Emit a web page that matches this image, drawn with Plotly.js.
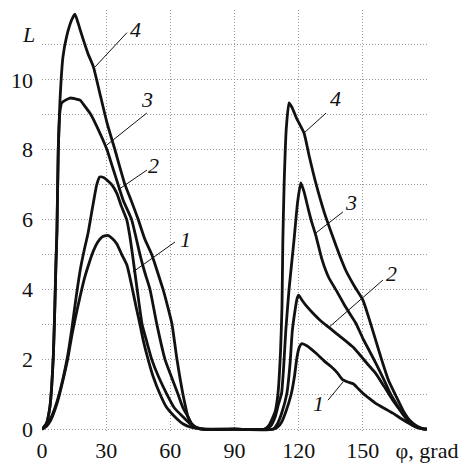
<!DOCTYPE html>
<html>
<head>
<meta charset="utf-8">
<script src="https://cdn.plot.ly/plotly-3.0.1.min.js"></script>
<style>
  html, body { margin: 0; padding: 0; background: #fff; }
  #chart { width: 476px; height: 464px; }
  #chart svg text { font-family: "Liberation Serif", "DejaVu Serif", serif !important; }
</style>
</head>
<body>
<div id="chart"></div>
<script>
// ---- Data (phi in degrees, L values) ----
const phi1 = [0, 2, 4, 6, 8, 10, 12, 14, 16, 18, 20, 22, 24, 26, 28, 30.6, 33, 35, 37.3, 39.7, 42.3, 44, 45.8, 47.5, 49.6, 52, 55.2, 58, 62.2, 66, 70, 75, 90, 108,
              110, 112, 114, 116.5, 118, 119.2, 120.3, 121.5, 124, 128, 132, 135, 138, 140.5, 143, 145.5, 148, 150, 153, 156, 160, 164, 168, 171.5, 175, 178, 180];
const L1   = [0, 0.08, 0.25, 0.55, 0.95, 1.45, 2.0, 2.7, 3.3, 3.85, 4.35, 4.75, 5.1, 5.35, 5.5, 5.55, 5.45, 5.3, 5.0, 4.7, 4.0, 3.5, 3.0, 2.5, 2.0, 1.5, 1.0, 0.65, 0.35, 0.15, 0.05, 0, 0, 0,
              0.05, 0.2, 0.5, 1.0, 1.5, 2.06, 2.35, 2.45, 2.38, 2.18, 1.95, 1.8, 1.62, 1.42, 1.35, 1.3, 1.15, 1.03, 0.88, 0.74, 0.6, 0.46, 0.3, 0.17, 0.06, 0.01, 0];

const phi2 = [0, 2, 4, 6, 8, 10, 12, 14, 16, 18, 20, 21.5, 23.5, 25.6, 27, 29, 31, 32.6, 35, 37, 39.6, 41, 42.3, 44.5, 46.8, 49, 51.3, 54.5, 58.4, 62, 66, 70, 74, 78, 90, 108,
              110, 112, 114.5, 116, 117, 118.3, 119.3, 120, 121.5, 124, 126.7, 130, 134, 138, 141.5, 145.4, 149, 152, 156, 160, 164, 168, 171.6, 175, 178, 180];
const L2   = [0, 0.1, 0.3, 0.6, 1.0, 1.5, 2.1, 2.9, 3.8, 4.6, 5.2, 5.6, 6.3, 7.0, 7.22, 7.2, 7.1, 7.0, 6.75, 6.4, 6.0, 5.55, 5.0, 4.0, 3.0, 2.5, 2.0, 1.5, 1.0, 0.6, 0.35, 0.12, 0.02, 0, 0, 0,
              0.15, 0.45, 1.03, 1.9, 2.8, 3.4, 3.75, 3.84, 3.7, 3.5, 3.32, 3.12, 2.92, 2.72, 2.55, 2.35, 2.1, 1.88, 1.6, 1.22, 0.83, 0.5, 0.25, 0.08, 0.01, 0];

const phi3 = [0, 2, 3.7, 4.5, 5.3, 6, 6.5, 7, 7.6, 8.4, 9.2, 11, 13.1, 15.4, 17.8, 20, 22.4, 25, 28, 30.4, 33, 35.6, 38, 41.9, 45.8, 48, 50.5, 53.7, 57.5, 60.5, 63.6, 66, 68.3, 70, 72, 75, 90, 104,
              107, 109, 110.5, 112, 113, 114, 115.5, 117.8, 119.5, 121, 122.5, 124.5, 126, 128, 131, 134, 137.5, 141, 144, 146.7, 150, 153, 156, 160, 163, 165.5, 169, 173.5, 177, 180];
const L3   = [0, 0.15, 0.64, 1.2, 2.1, 3.5, 4.7, 5.7, 8.0, 9.1, 9.34, 9.42, 9.48, 9.46, 9.42, 9.25, 9.05, 8.75, 8.35, 8.0, 7.5, 7.0, 6.55, 6.0, 5.0, 4.5, 4.0, 3.0, 2.0, 1.5, 1.0, 0.6, 0.35, 0.15, 0.05, 0, 0, 0,
              0.1, 0.35, 0.7, 1.03, 1.8, 2.84, 4.0, 5.4, 6.5, 7.05, 6.8, 6.3, 5.95, 5.55, 4.84, 4.35, 3.98, 3.6, 3.3, 3.04, 2.6, 2.25, 1.9, 1.4, 1.0, 0.74, 0.4, 0.1, 0.02, 0];

const phi4 = [0, 2, 3.7, 4.5, 5.3, 6, 6.5, 7, 7.6, 8.4, 9.8, 11.5, 13.9, 15.4, 17.5, 19.3, 21.5, 24, 27.1, 30.4, 34.1, 38.8, 42, 45, 48, 51.3, 54, 56.6, 58.8, 60.8, 63.1, 65.9, 68.3, 70, 72, 75, 90, 104,
              106, 108, 109, 110.3, 111.5, 112.2, 112.6, 113.2, 114.2, 115.5, 117, 119, 122.5, 125, 128, 132, 136, 139, 142, 146, 150, 153, 156, 159, 162, 165.5, 168.8, 172, 175, 178, 180];
const L4   = [0, 0.15, 0.64, 1.2, 2.1, 3.5, 4.7, 5.7, 8.0, 9.4, 10.66, 11.24, 11.72, 11.88, 11.5, 11.15, 10.75, 10.38, 9.6, 8.77, 8.0, 7.0, 6.5, 6.0, 5.45, 5.0, 4.5, 4.0, 3.5, 3.0, 2.0, 1.0, 0.35, 0.15, 0.05, 0, 0, 0,
              0.1, 0.35, 0.5, 1.0, 2.2, 3.5, 5.4, 7.0, 8.6, 9.34, 9.2, 8.9, 8.48, 7.8, 7.05, 6.2, 5.5, 5.0, 4.55, 4.1, 3.7, 3.15, 2.55, 1.95, 1.4, 0.95, 0.54, 0.25, 0.1, 0.02, 0];

const xTickVals = [0, 30, 60, 90, 120, 150, 180];
const xTickText = ["0", "30", "60", "90", "120", "150", "\u03c6, grad"];
const yTickVals = [0, 1, 2, 3, 4, 5, 6, 7, 8, 9, 10, 11, 12];
const yTickText = ["0", "", "2", "", "4", "", "6", "", "8", "", "10", "", ""];

// curve number labels: [label, textPhi, textL, lineFromPhi, lineFromL, lineToPhi, lineToL]
const curveLabels = [
  ["4", 43.5, 11.43, 39.7, 11.35, 24.8, 10.37],
  ["3", 49.1, 9.43, 49.0, 9.05, 30.4, 8.14],
  ["2", 51.9, 7.56, 49.1, 7.42, 35.5, 6.85],
  ["1", 66.9, 5.42, 62.2, 5.36, 42.5, 4.5],
  ["4", 137.4, 9.48, 132.8, 9.05, 122.5, 8.48],
  ["3", 144.5, 6.5, 140.7, 6.22, 128.1, 5.62],
  ["2", 163.2, 4.47, 159.4, 4.27, 134.2, 2.92],
  ["1", 129.5, 0.74, 133.7, 0.83, 140.7, 1.35]
];

const FONT = "Liberation Serif, DejaVu Serif, serif";
const lineStyle = { color: "#111", width: 2.8, shape: "spline", smoothing: 0.5 };

const traces = [
  [phi1, L1], [phi2, L2], [phi3, L3], [phi4, L4]
].map(([x, y]) => ({
  x: x, y: y, type: "scatter", mode: "lines",
  line: lineStyle, hoverinfo: "skip", showlegend: false
}));

const shapes = curveLabels.map(c => ({
  type: "line", xref: "x", yref: "y",
  x0: c[3], y0: c[4], x1: c[5], y1: c[6],
  line: { color: "#111", width: 1 }
}));

const annotations = curveLabels.map(c => ({
  x: c[1], y: c[2], xref: "x", yref: "y",
  text: "<i>" + c[0] + "</i>", showarrow: false,
  font: { family: FONT, size: 22, color: "#111" }
}));
annotations.push({
  x: -0.057, y: 0.976, xref: "paper", yref: "paper",
  text: "<i>L</i>", showarrow: false,
  font: { family: FONT, size: 22, color: "#111" }
});

const gridColor = "#9a9a9a";
const layout = {
  width: 476, height: 464,
  margin: { l: 42, r: 49, t: 10, b: 32 },
  paper_bgcolor: "#fff", plot_bgcolor: "#fff",
  font: { family: FONT, size: 22, color: "#111" },
  xaxis: {
    range: [0, 180], tickvals: xTickVals, ticktext: xTickText,
    showgrid: true, gridcolor: gridColor, griddash: "1px,2px", gridwidth: 1,
    zeroline: false, showline: false, ticks: "", ticklabelstandoff: 3,
    tickfont: { family: FONT, size: 22, color: "#111" }, fixedrange: true
  },
  yaxis: {
    range: [-0.08, 12], tickvals: yTickVals, ticktext: yTickText,
    showgrid: true, gridcolor: gridColor, griddash: "1px,2px", gridwidth: 1,
    zeroline: false, showline: false, ticks: "", ticklabelstandoff: 8,
    tickfont: { family: FONT, size: 22, color: "#111" }, fixedrange: true
  },
  shapes: shapes,
  annotations: annotations,
  showlegend: false
};

Plotly.newPlot("chart", traces, layout, { staticPlot: true, displayModeBar: false });
</script>
</body>
</html>
